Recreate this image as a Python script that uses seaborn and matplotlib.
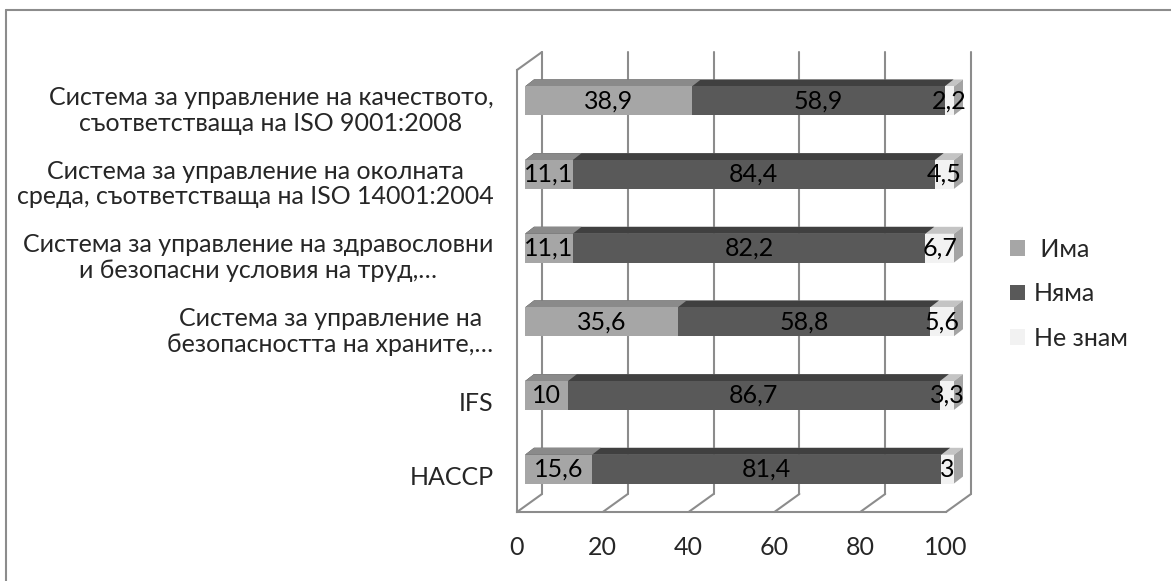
import numpy as np
import pandas as pd
import matplotlib
matplotlib.use('Agg')
import matplotlib.pyplot as plt
import seaborn as sns
from matplotlib.transforms import ScaledTranslation, IdentityTransform
from matplotlib.patches import Polygon, Patch
from matplotlib.lines import Line2D

# data
categories = [
    'Система за управление на качеството,\nсъответстваща на ISO 9001:2008',
    'Система за управление на околната\nсреда, съответстваща на ISO 14001:2004',
    'Система за управление на здравословни\nи безопасни условия на труд,…',
    'Система за управление на\nбезопасността на храните,…',
    'IFS',
    'HACCP',
]
ima = [38.9, 11.1, 11.1, 35.6, 10, 15.6]
nyama = [58.9, 84.4, 82.2, 58.8, 86.7, 81.4]
ne_znam = [2.2, 4.5, 6.7, 5.6, 3.3, 3]
series_names = [' Има', 'Няма', 'Не знам']
xticks = [0, 20, 40, 60, 80, 100]

front_colors = ['#a6a6a6', '#595959', '#f2f2f2']
top_colors = ['#8a8a8a', '#404040', '#c4c4c4']
side_color = '#a3a3a3'
line_color = '#8c8c8c'

sns.set_style('white')
plt.rcParams['font.family'] = ['Lato', 'DejaVu Sans']
FS = 18

DPI = 100
W, H = 1171, 581
fig = plt.figure(figsize=(W / DPI, H / DPI), dpi=DPI)
ax = fig.add_axes([517 / W, (H - 512) / H, 429 / W, 442 / H])
ax.set_facecolor('none')

df = pd.DataFrame({'cat': categories, 'ima': ima, 'nyama': nyama, 'ne_znam': ne_znam})
df['c1'] = df['ima']
df['c2'] = df['ima'] + df['nyama']
df['c3'] = df['c2'] + df['ne_znam']

# cumulative bars drawn back to front -> stacked look
containers = []
for col, color in [('c3', front_colors[2]), ('c2', front_colors[1]), ('c1', front_colors[0])]:
    sns.barplot(data=df, y='cat', x=col, color=color, saturation=1, width=0.39,
                orient='h', ax=ax, zorder=3, linewidth=0)
    containers.append(ax.containers[-1])

ax.set_xlim(0, 100)
ax.set_ylim(5.5, -0.5)

# 3D offsets in pixels
bar_off = (8, 6)     # front face of bars, from the front plane
bar_depth = (9, 7)   # depth of the bars
wall_off = (25, 18)  # back wall


def px(dx, dy):
    return ScaledTranslation(dx / DPI, dy / DPI, fig.dpi_scale_trans)


def to_px(x, y):
    return ax.transData.transform((x, y))


def add_poly(pts, color, z):
    ax.add_patch(Polygon(pts, closed=True, facecolor=color, edgecolor='none',
                         transform=IdentityTransform(), zorder=z, clip_on=False))


bo = np.array(bar_off)
bd = np.array(bar_depth)
top_list = [top_colors[2], top_colors[1], top_colors[0]]
for k, cont in enumerate(containers):
    for p in cont.patches:
        p.set_transform(ax.transData + px(*bar_off))
        p.set_clip_on(False)
        x0, y0, w, h = p.get_x(), p.get_y(), p.get_width(), p.get_height()
        a = to_px(x0, y0) + bo
        b = to_px(x0 + w, y0 + h) + bo
        ytop = max(a[1], b[1])
        ybot = min(a[1], b[1])
        top = [(a[0], ytop), (b[0], ytop), (b[0] + bd[0], ytop + bd[1]), (a[0] + bd[0], ytop + bd[1])]
        add_poly(top, top_list[k], 2.9 + k * 0.01)
        if k == 0:
            side = [(b[0], ybot), (b[0], ytop), (b[0] + bd[0], ytop + bd[1]), (b[0] + bd[0], ybot + bd[1])]
            add_poly(side, side_color, 2.9)

# back wall grid lines
ymin, ymax = 5.5, -0.5
for v in xticks:
    ax.plot([v, v], [ymin, ymax], color=line_color, lw=1.5, zorder=1,
            transform=ax.transData + px(*wall_off), clip_on=False)
    p0 = to_px(v, ymin)
    ax.add_line(Line2D([p0[0], p0[0] + wall_off[0]], [p0[1], p0[1] + wall_off[1]],
                       color=line_color, lw=1.5, transform=IdentityTransform(),
                       zorder=1, clip_on=False))
# left wall top edge
p0 = to_px(0, ymax)
ax.add_line(Line2D([p0[0], p0[0] + wall_off[0]], [p0[1], p0[1] + wall_off[1]],
                   color=line_color, lw=1.5, transform=IdentityTransform(),
                   zorder=1, clip_on=False))

# data labels
for i in range(len(categories)):
    starts = [0, ima[i], ima[i] + nyama[i]]
    vals = [ima[i], nyama[i], ne_znam[i]]
    for s, v in zip(starts, vals):
        ax.text(s + v / 2, i, f'{v:g}'.replace('.', ','), ha='center', va='center',
                fontsize=FS, color='black', zorder=5,
                transform=ax.transData + px(*bar_off), clip_on=False)

# axes styling
for side in ['top', 'right']:
    ax.spines[side].set_visible(False)
for side in ['left', 'bottom']:
    ax.spines[side].set_color(line_color)
    ax.spines[side].set_linewidth(1.5)
ax.set_xticks(xticks)
ax.set_xticklabels([str(t) for t in xticks])
ax.set_yticks(np.arange(len(categories)) + 0.5, minor=True)
ax.tick_params(axis='x', length=5, width=1.5, color=line_color, pad=12, labelsize=FS)
ax.tick_params(axis='y', which='major', length=0, pad=17, labelsize=FS)
ax.tick_params(axis='y', which='minor', length=6, width=1.5, color=line_color)
for lab in ax.get_yticklabels():
    lab.set_multialignment('center')
    lab.set_linespacing(1.15)
ax.set_xlabel('')
ax.set_ylabel('')
ax.grid(False)

# legend
handles = [Patch(facecolor=c, edgecolor='none') for c in front_colors]
fig.legend(handles, series_names, loc='upper left', bbox_to_anchor=(1010 / W, (H - 238) / H),
           frameon=False, fontsize=FS, handlelength=0.6, handleheight=0.6,
           handletextpad=0.35, labelspacing=0.85, borderpad=0, borderaxespad=0)

# chart border (top and left only visible)
fig.add_artist(Line2D([6 / W, 1], [(H - 10) / H, (H - 10) / H], color=line_color, lw=1.5))
fig.add_artist(Line2D([6 / W, 6 / W], [0, (H - 10) / H], color=line_color, lw=1.5))

fig.savefig('out.png', dpi=DPI)
